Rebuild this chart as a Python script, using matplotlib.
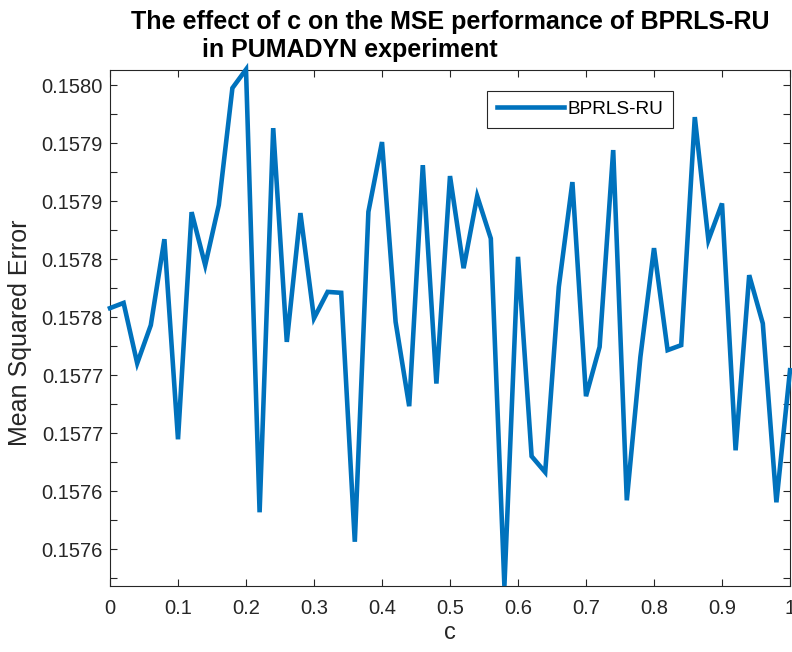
import numpy as np
import matplotlib
matplotlib.use("Agg")
import matplotlib.pyplot as plt
from matplotlib.ticker import MultipleLocator

# === Données ===
c_values = [0.00, 0.02, 0.04, 0.06, 0.08, 0.10, 0.12, 0.14, 0.16, 0.18,
            0.20, 0.22, 0.24, 0.26, 0.28, 0.30, 0.32, 0.34, 0.36, 0.38,
            0.40, 0.42, 0.44, 0.46, 0.48, 0.50, 0.52, 0.54, 0.56, 0.58,
            0.60, 0.62, 0.64, 0.66, 0.68, 0.70, 0.72, 0.74, 0.76, 0.78,
            0.80, 0.82, 0.84, 0.86, 0.88, 0.90, 0.92, 0.94, 0.96, 0.98,
            1.00]
mse = [0.1578078, 0.1578123, 0.1577603, 0.1577931, 0.1578672, 0.1576948,
       0.1578905, 0.1578448, 0.1578966, 0.1579974, 0.1580134, 0.1576319,
       0.1579629, 0.1577787, 0.1578897, 0.1577991, 0.1578218, 0.1578210,
       0.1576065, 0.1578908, 0.1579509, 0.1577960, 0.1577233, 0.1579310,
       0.1577428, 0.1579216, 0.1578422, 0.1579043, 0.1578678, 0.1575684,
       0.1578520, 0.1576802, 0.1576664, 0.1578261, 0.1579164, 0.1577319,
       0.1577744, 0.1579440, 0.1576422, 0.1577658, 0.1578595, 0.1577716,
       0.1577759, 0.1579724, 0.1578664, 0.1578980, 0.1576853, 0.1578362,
       0.1577946, 0.1576405, 0.1577543]

x_ticks = [0, 0.1, 0.2, 0.3, 0.4, 0.5, 0.6, 0.7, 0.8, 0.9, 1.0]
x_tick_labels = ["0", "0.1", "0.2", "0.3", "0.4", "0.5", "0.6", "0.7", "0.8", "0.9", "1"]
y_ticks = [0.15760, 0.15765, 0.15770, 0.15775, 0.15780, 0.15785, 0.15790, 0.15795, 0.15800]
y_tick_labels = ["0.1576", "0.1576", "0.1577", "0.1577", "0.1578", "0.1578", "0.1579", "0.1579", "0.1580"]

# === Figure ===
plt.rcParams["font.family"] = ["Liberation Sans", "DejaVu Sans"]
axis_color = "#262626"
line_color = "#0072BD"

fig = plt.figure(figsize=(7.92, 6.52), dpi=100)
ax = fig.add_axes([110 / 792, 66 / 652, 680 / 792, 516.5 / 652])

ax.plot(c_values, mse, color=line_color, linewidth=3.3, label="BPRLS-RU",
        solid_joinstyle="miter", clip_on=False, zorder=3)

ax.set_xlim(0, 1)
ax.set_ylim(min(mse), max(mse))
ax.set_xticks(x_ticks)
ax.set_xticklabels(x_tick_labels)
ax.set_yticks(y_ticks)
ax.set_yticklabels(y_tick_labels)
ax.yaxis.set_minor_locator(MultipleLocator(0.000025))

ax.tick_params(axis="both", which="both", direction="in", top=True, right=True,
               color=axis_color, labelcolor=axis_color, width=0.8, labelsize=14.5)
ax.tick_params(axis="both", which="major", length=5)
ax.tick_params(axis="y", which="minor", length=5)
ax.tick_params(axis="x", which="major", pad=9)
ax.tick_params(axis="y", which="major", pad=5)
for s in ax.spines.values():
    s.set_color(axis_color)
    s.set_linewidth(0.8)

ax.set_xlabel("c", fontsize=17, color=axis_color, labelpad=3)
ax.set_ylabel("Mean Squared Error", fontsize=18, color=axis_color)
ax.yaxis.set_label_coords(-0.114, 0.49)

# titre sur deux lignes (la 2e ligne est décalée à gauche dans l'original)
fig.text(450 / 792, 1 - 29 / 652, "The effect of c on the MSE performance of BPRLS-RU",
         ha="center", va="baseline", fontsize=18, fontweight="bold")
fig.text(202 / 792, 1 - 57 / 652, "in PUMADYN experiment",
         ha="left", va="baseline", fontsize=18, fontweight="bold")

leg = ax.legend(loc="upper left", bbox_to_anchor=(0.555, 0.958), fontsize=13.7,
                handlelength=3.5, handletextpad=0.2, borderpad=0.5,
                borderaxespad=0, fancybox=False, framealpha=1, edgecolor=axis_color)
leg.get_frame().set_linewidth(0.8)

fig.savefig("out.png", dpi=100)
